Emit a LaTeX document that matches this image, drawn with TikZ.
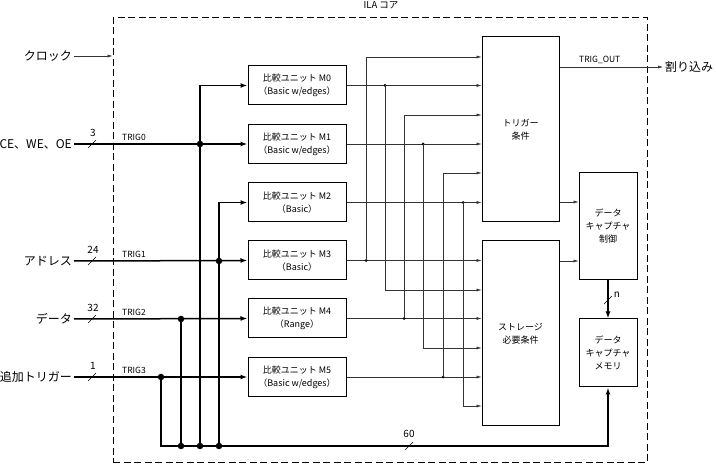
\documentclass[tikz,border=0pt]{standalone}
\usepackage{fontspec}
\setmainfont{Noto Sans CJK JP}
\usetikzlibrary{arrows.meta}
\tikzset{
  unitbox/.style={draw,line width=1pt,minimum width=98pt,minimum height=39pt,inner sep=0pt,align=center,font=\fontsize{9}{13}\selectfont},
  blockbox/.style={draw,line width=1pt,inner sep=0pt,align=center,font=\fontsize{9}{13}\selectfont},
  inlabel/.style={anchor=east,inner sep=2pt,font=\fontsize{12}{13}\selectfont},
  siglabel/.style={anchor=west,inner sep=1pt,font=\fontsize{8.5}{9}\selectfont},
  buswidth/.style={inner sep=0pt,font=\fontsize{10}{11}\selectfont},
  bus/.style={line width=1.5pt,-{Latex[length=7pt,width=5pt]}},
  sig/.style={line width=0.5pt,black!80,-{Latex[length=5pt,width=3pt]}},
  busdot/.style={fill,circle,inner sep=0pt,minimum size=6.5pt},
  sigdot/.style={fill,circle,inner sep=0pt,minimum size=3pt},
  busslash/.pic={\draw[line width=0.5pt] (-4pt,-4pt)--(4pt,4pt);}
}
\begin{document}
\begin{tikzpicture}[x=1pt,y=-1pt]
\useasboundingbox (0,0) rectangle (716,465);
\node[draw,dash pattern=on 7pt off 3.5pt,line width=1pt,minimum width=534pt,minimum height=445pt,inner sep=0pt] (ila) at (380,240.5) {};
\node[font=\fontsize{9.5}{10}\selectfont] (title) at (381,5) {ILA コア};

\node[unitbox] (m0) at (297,85.5) {比較ユニット M0\\（Basic w/edges）};
\node[unitbox] (m1) at (297,144) {比較ユニット M1\\（Basic w/edges）};
\node[unitbox] (m2) at (297,202.5) {比較ユニット M2\\（Basic）};
\node[unitbox] (m3) at (297,260.5) {比較ユニット M3\\（Basic）};
\node[unitbox] (m4) at (297,318.5) {比較ユニット M4\\（Range）};
\node[unitbox] (m5) at (297,377) {比較ユニット M5\\（Basic w/edges）};

\node[blockbox,minimum width=77pt,minimum height=185pt] (trig) at (520.5,129.5) {トリガー\\条件};
\node[blockbox,minimum width=77pt,minimum height=185pt] (stor) at (520.5,333.5) {ストレージ\\必要条件};
\node[blockbox,minimum width=58pt,minimum height=107pt] (ctrl) at (608,226.5) {データ\\キャプチャ\\制御};
\node[blockbox,minimum width=58pt,minimum height=68pt] (mem) at (608,353) {データ\\キャプチャ\\メモリ};

\node[inlabel] (clk) at (74,56) {クロック};
\node[inlabel] (ctl) at (74,144) {CE、WE、OE};
\node[inlabel] (addr) at (74,261) {アドレス};
\node[inlabel] (data) at (74,319) {データ};
\node[inlabel] (ext) at (74,377) {追加トリガー};
\node[anchor=west,inner sep=2pt,font=\fontsize{12}{13}\selectfont] (irq) at (663,67) {割り込み};

\draw[sig] (clk.east) -- (clk.east -| ila.west);

\coordinate (j0) at (200,144);
\coordinate (j1) at (219,261);
\coordinate (j2) at (181,319);
\coordinate (j3) at (161,377);
\coordinate (b0) at (200,446);
\coordinate (b1) at (219,446);
\coordinate (b2) at (181,446);
\coordinate (b3) at (161,446);

\draw[bus] (ctl.east) -- (m1.west);
\draw[bus] (addr.east) -- (m3.west);
\draw[bus] (data.east) -- (m4.west);
\draw[bus] (ext.east) -- (m5.west);
\draw[bus] (b0) |- (m0.west);
\draw[bus] (b1) |- (m2.west);
\draw[bus,-] (j2) -- (b2);
\draw[bus] (j3) -- (b3) -| (mem.south);
\foreach \j in {j0,j1,j2,j3,b0,b1,b2}
  \node[busdot] at (\j) {};

\foreach \y/\w/\t in {144/3/TRIG0,261/24/TRIG1,319/32/TRIG2,377/1/TRIG3}{
  \pic at (92,\y) {busslash};
  \node[buswidth] at (93,\y-11) {\w};
  \node[siglabel] at (121,\y-7) {\t};
}
\pic at (409,446) {busslash};
\node[buswidth] at (409,434) {60};

\foreach \u/\x/\s in {m0/385/290,m1/423/348,m2/463/406}{
  \draw[sig] (\u.east) -- (\u.east -| trig.west);
  \node[sigdot] (d\u) at (\x,0 |- \u.east) {};
  \draw[sig] (d\u.center) |- (stor.west |- 0,\s);
}
\foreach \u/\x/\t in {m3/366/57,m4/404/115,m5/443/173}{
  \draw[sig] (\u.east) -- (\u.east -| stor.west);
  \node[sigdot] (d\u) at (\x,0 |- \u.east) {};
  \draw[sig] (d\u.center) |- (trig.west |- 0,\t);
}

\draw[sig] (trig.east |- 0,67) -- (irq.west);
\node[siglabel] (tout) at (578,60) {TRIG\_OUT};
\draw[sig] (trig.east |- 0,202) -- (ctrl.west |- 0,202);
\draw[sig] (stor.east |- 0,261) -- (ctrl.west |- 0,261);
\draw[bus] (ctrl.south) -- (mem.north);
\pic at (608,300) {busslash};
\node[buswidth] at (617,295) {n};
\end{tikzpicture}
\end{document}
